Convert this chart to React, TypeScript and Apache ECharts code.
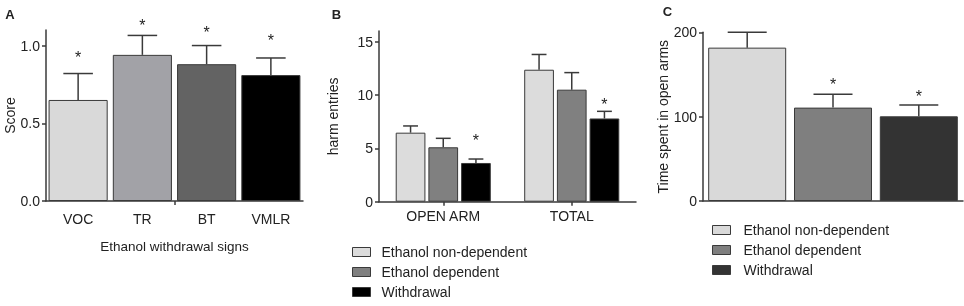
import React, { useEffect, useRef } from "react";
import * as echarts from "echarts";

// Panel A
const signCategories = ["VOC", "TR", "BT", "VMLR"];
const signScores = [0.65, 0.94, 0.88, 0.81];
const signErrTops = [0.82, 1.065, 1.0, 0.92];
const signStars = [0.94, 1.15, 1.105, 1.05];
const signColors = ["#d9d9d9", "#a2a2a7", "#636363", "#000000"];

// Panel B
const groupNames = ["Ethanol non-dependent", "Ethanol dependent", "Withdrawal"];
const entryCategories = ["OPEN ARM", "TOTAL"];
const entriesNonDep = [6.47, 12.37];
const entriesNonDepErr = [7.1, 13.8];
const entriesDep = [5.1, 10.5];
const entriesDepErr = [5.94, 12.1];
const entriesWd = [3.63, 7.8];
const entriesWdErr = [4.0, 8.47];
const entriesWdStars = [6.0, 9.37];
const entryColors = ["#dcdcdc", "#808080", "#000000"];

// Panel C
const timeValues = [181.8, 110.7, 100.4];
const timeErrTops = [200, 126.5, 113.9];
const timeStars = [null, 141.5, 127.8];
const timeColors = ["#d9d9d9", "#7f7f7f", "#333333"];

const FONT = "'Liberation Sans', Arial, sans-serif";
const INK = "#222";
const AXIS = "#3a3a3a";

function errorRenderer(n: number, catGap: number, barGap: number) {
  return (params: any, api: any) => {
    const cat = api.value(0);
    const val = api.value(1);
    const err = api.value(2);
    const star = api.value(3);
    const idx = api.value(4);
    const band = api.size([1, 0])[0];
    const w = (band * (1 - catGap)) / (n + (n - 1) * barGap);
    const total = n * w + (n - 1) * barGap * w;
    const base = api.coord([cat, val]);
    const cx = base[0] - total / 2 + w / 2 + idx * w * (1 + barGap);
    const yv = base[1];
    const ye = api.coord([cat, err])[1];
    const half = w / 4;
    const children: any[] = [
      { type: "line", shape: { x1: cx, y1: yv, x2: cx, y2: ye }, style: { stroke: AXIS, lineWidth: 1.5 } },
      { type: "line", shape: { x1: cx - half, y1: ye, x2: cx + half, y2: ye }, style: { stroke: AXIS, lineWidth: 1.5 } },
    ];
    if (typeof star === "number" && isFinite(star)) {
      const ys = api.coord([cat, star])[1];
      children.push({
        type: "text",
        x: cx,
        y: ys + 3,
        style: { text: "*", fontSize: 16, fill: INK, align: "center", verticalAlign: "middle", fontFamily: FONT },
      });
    }
    return { type: "group", children };
  };
}

export default function App() {
  const ref = useRef<HTMLDivElement>(null);
  useEffect(() => {
    if (!ref.current) return;
    const chart = echarts.init(ref.current, undefined, { renderer: "svg" });

    const tickStyle = { color: AXIS, width: 1.5 };
    const yAxisBase = {
      type: "value",
      min: 0,
      nameLocation: "middle",
      nameTextStyle: { fontSize: 14, color: INK, fontFamily: FONT },
      axisLine: { show: true, lineStyle: tickStyle },
      axisTick: { show: true, length: 4, lineStyle: tickStyle },
      axisLabel: { fontSize: 14, color: INK, fontFamily: FONT, margin: 6 },
      splitLine: { show: false },
    };
    const xAxisBase = {
      type: "category",
      axisLine: { show: true, lineStyle: tickStyle },
      axisTick: { show: false, length: 4, lineStyle: tickStyle },
      axisLabel: { fontSize: 14, color: INK, fontFamily: FONT },
      nameTextStyle: { fontSize: 13.5, color: INK, fontFamily: FONT },
    };
    const barStyle = { borderColor: AXIS, borderWidth: 1 };

    const entrySeries = [
      { v: entriesNonDep, e: entriesNonDepErr, s: [null, null] },
      { v: entriesDep, e: entriesDepErr, s: [null, null] },
      { v: entriesWd, e: entriesWdErr, s: entriesWdStars },
    ];

    const letter = (text: string, x: number, y: number) => ({
      type: "text",
      x,
      y,
      style: { text, fontSize: 13, fontWeight: "bold", fill: INK, fontFamily: FONT, align: "center", verticalAlign: "middle" },
    });

    const legendBase = {
      orient: "vertical",
      padding: 0,
      itemGap: 6,
      itemWidth: 18,
      itemHeight: 9,
      icon: "rect",
      selectedMode: false,
      itemStyle: { borderColor: AXIS, borderWidth: 1 },
    };

    const option: any = {
      animation: false,
      textStyle: { fontFamily: FONT },
      grid: [
        { left: 46, top: 30, width: 257, height: 171 },
        { left: 379, top: 31, width: 257, height: 170.7 },
        { left: 703, top: 32.3, width: 260, height: 168.7 },
      ],
      xAxis: [
        {
          ...xAxisBase,
          gridIndex: 0,
          data: signCategories,
          name: "Ethanol withdrawal signs",
          nameLocation: "middle",
          nameGap: 38,
          axisLabel: { ...xAxisBase.axisLabel, margin: 11 },
        },
        {
          ...xAxisBase,
          gridIndex: 1,
          data: entryCategories,
          axisLabel: { ...xAxisBase.axisLabel, margin: 7 },
          axisTick: { ...xAxisBase.axisTick, show: true, alignWithLabel: true },
        },
        {
          ...xAxisBase,
          gridIndex: 2,
          data: [""],
          axisLabel: { show: false },
        },
        {
          // single middle tick of panel A's x axis
          type: "value",
          gridIndex: 0,
          position: "bottom",
          min: 0,
          max: signCategories.length,
          axisLine: { show: false },
          axisLabel: { show: false },
          splitLine: { show: false },
          axisTick: { show: true, length: 4, lineStyle: tickStyle, customValues: [signCategories.length / 2] },
        },
      ],
      yAxis: [
        {
          ...yAxisBase,
          gridIndex: 0,
          max: 1.1,
          name: "Score",
          nameGap: 29,
          axisLabel: { ...yAxisBase.axisLabel, customValues: [0, 0.5, 1.0], formatter: (v: number) => v.toFixed(1) },
          axisTick: { ...yAxisBase.axisTick, customValues: [0, 0.5, 1.0] },
        },
        {
          ...yAxisBase,
          gridIndex: 1,
          max: 16,
          name: "harm entries",
          nameGap: 39,
          axisLabel: { ...yAxisBase.axisLabel, customValues: [0, 5, 10, 15] },
          axisTick: { ...yAxisBase.axisTick, customValues: [0, 5, 10, 15] },
        },
        {
          ...yAxisBase,
          gridIndex: 2,
          max: 200,
          interval: 100,
          name: "Time spent in open arms",
          nameGap: 29,
        },
      ],
      legend: [
        {
          ...legendBase,
          left: 352,
          top: 245,
          textStyle: { fontSize: 14, color: INK, fontFamily: FONT, lineHeight: 14, padding: [0, 0, 0, 6] },
          data: groupNames.map((name, i) => ({ name, itemStyle: { color: entryColors[i] } })),
        },
        {
          ...legendBase,
          left: 712,
          top: 223,
          textStyle: { fontSize: 14, color: INK, fontFamily: FONT, lineHeight: 14, padding: [0, 0, 0, 8] },
          data: groupNames.map((name, i) => ({ name, itemStyle: { color: timeColors[i] } })),
        },
      ],
      graphic: [letter("A", 10, 14), letter("B", 336.5, 14), letter("C", 667.5, 11.5)],
      series: [
        {
          type: "bar",
          xAxisIndex: 0,
          yAxisIndex: 0,
          barCategoryGap: "8%",
          itemStyle: barStyle,
          data: signScores.map((v, i) => ({ value: v, itemStyle: { color: signColors[i] } })),
        },
        {
          type: "custom",
          xAxisIndex: 0,
          yAxisIndex: 0,
          z: 5,
          renderItem: errorRenderer(1, 0.08, 0.1),
          data: signScores.map((v, i) => [i, v, signErrTops[i], signStars[i] ?? "-", 0]),
        },
        ...entrySeries.map((s, g) => ({
          type: "bar",
          name: groupNames[g],
          xAxisIndex: 1,
          yAxisIndex: 1,
          barGap: "10%",
          barCategoryGap: "26%",
          itemStyle: { ...barStyle, color: entryColors[g] },
          data: s.v,
        })),
        {
          type: "custom",
          xAxisIndex: 1,
          yAxisIndex: 1,
          z: 5,
          renderItem: errorRenderer(3, 0.26, 0.1),
          data: entrySeries.flatMap((s, g) => s.v.map((v, c) => [c, v, s.e[c], s.s[c] ?? "-", g])),
        },
        ...timeValues.map((v, g) => ({
          type: "bar",
          name: groupNames[g],
          xAxisIndex: 2,
          yAxisIndex: 2,
          barGap: "10%",
          barCategoryGap: "4%",
          itemStyle: { ...barStyle, color: timeColors[g] },
          data: [v],
        })),
        {
          type: "custom",
          xAxisIndex: 2,
          yAxisIndex: 2,
          z: 5,
          renderItem: errorRenderer(3, 0.04, 0.1),
          data: timeValues.map((v, g) => [0, v, timeErrTops[g], timeStars[g] ?? "-", g]),
        },
      ],
    };

    chart.setOption(option);
    return () => chart.dispose();
  }, []);

  return <div ref={ref} style={{ position: "fixed", left: 0, top: 0, width: 964, height: 306 }} />;
}
